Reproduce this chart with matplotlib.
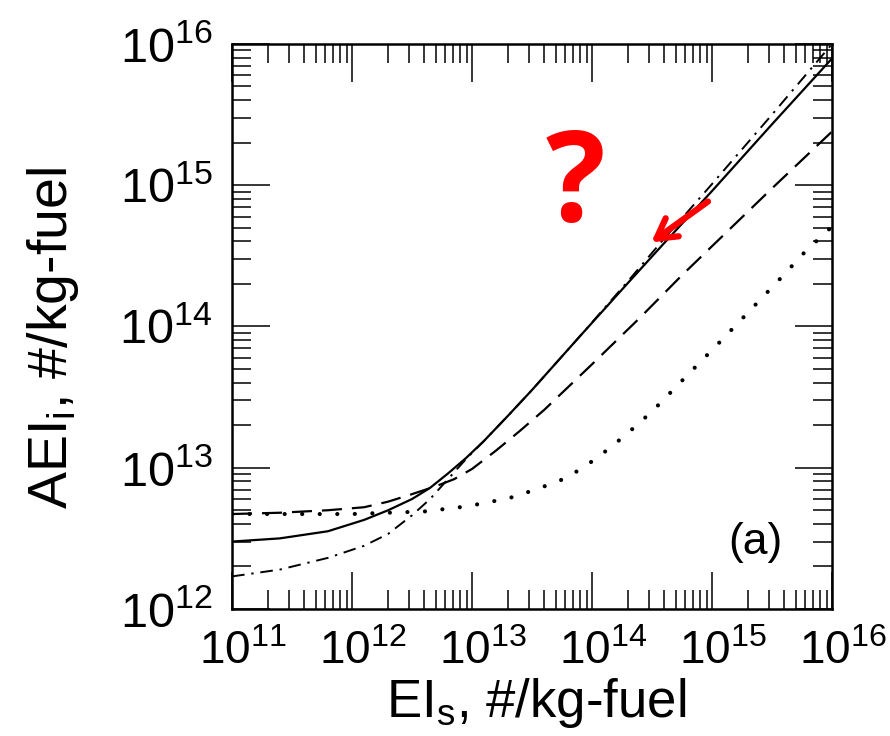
import numpy as np
import matplotlib
matplotlib.use("Agg")
import matplotlib.pyplot as plt
from matplotlib.ticker import LogLocator, LogFormatterMathtext, NullFormatter
from matplotlib.transforms import ScaledTranslation

plt.rcParams['font.family'] = ['Liberation Sans', 'DejaVu Sans']
plt.rcParams['mathtext.fontset'] = 'custom'
plt.rcParams['mathtext.rm'] = 'Liberation Sans'
plt.rcParams['mathtext.it'] = 'Liberation Sans'

# curves, EI_s vs AEI_i (#/kg-fuel)
solid_x = [1.0e11, 2.5e11, 6.3e11, 1.26e12, 2.0e12, 3.16e12, 4.47e12, 6.3e12, 8.9e12,
           1.26e13, 2.0e13, 3.16e13, 7.9e13, 2.0e14, 4.0e14, 1.0e15, 3.16e15, 1.0e16]
solid_y = [3.0e12, 3.16e12, 3.55e12, 4.27e12, 5.0e12, 6.0e12, 7.2e12, 9.1e12, 1.17e13,
           1.55e13, 2.34e13, 3.55e13, 8.5e13, 2.04e14, 3.9e14, 9.1e14, 2.7e15, 7.9e15]

dashdot_x = [1.0e11, 2.5e11, 6.3e11, 1.26e12, 2.0e12, 3.16e12, 4.47e12, 6.3e12, 8.9e12,
             1.26e13, 2.0e13, 3.16e13, 7.9e13, 2.0e14, 4.0e14, 1.0e15, 3.16e15, 1.0e16]
dashdot_y = [1.7e12, 1.9e12, 2.3e12, 2.8e12, 3.4e12, 4.6e12, 6.0e12, 8.3e12, 1.15e13,
             1.55e13, 2.34e13, 3.55e13, 8.5e13, 2.1e14, 4.2e14, 1.02e15, 3.16e15, 1.0e16]

dashed_x = [1.0e11, 2.5e11, 6.3e11, 1.26e12, 2.0e12, 3.16e12, 5.0e12, 7.1e12, 1.0e13,
            1.58e13, 2.5e13, 4.0e13, 1.0e14, 2.5e14, 5.6e14, 1.0e15, 3.16e15, 1.0e16]
dashed_y = [4.7e12, 4.8e12, 5.0e12, 5.25e12, 5.75e12, 6.5e12, 7.4e12, 8.3e12, 9.8e12,
            1.32e13, 1.82e13, 2.57e13, 5.4e13, 1.15e14, 2.3e14, 3.7e14, 9.5e14, 2.4e15]

dotted_x = [1.0e11, 3.16e11, 1.0e12, 2.0e12, 4.0e12, 7.9e12, 1.26e13, 2.2e13, 3.55e13,
            6.2e13, 1.1e14, 1.9e14, 3.16e14, 6.2e14, 1.1e15, 1.95e15, 3.55e15, 6.0e15, 1.0e16]
dotted_y = [4.7e12, 4.7e12, 4.7e12, 4.8e12, 4.9e12, 5.25e12, 5.6e12, 6.2e12, 7.1e12,
            8.5e12, 1.17e13, 1.7e13, 2.5e13, 4.5e13, 7.4e13, 1.23e14, 2.1e14, 3.4e14, 5.1e14]

fig = plt.figure(figsize=(8.9, 7.36), dpi=100)
ax = fig.add_axes([0.2607, 0.1726, 0.6742, 0.7677])

ax.plot(solid_x, solid_y, color='black', lw=1.6)
ax.plot(dashdot_x, dashdot_y, color='black', lw=1.4, dashes=(6.5, 3.5, 1.2, 3.5))
ax.plot(dashed_x, dashed_y, color='black', lw=1.6, dashes=(9, 4.5))
ax.plot(dotted_x, dotted_y, color='black', lw=3.0, dashes=(0.01, 4.2),
        dash_capstyle='round')

ax.set_xscale('log')
ax.set_yscale('log')
ax.set_xlim(1e11, 1e16)
ax.set_ylim(1e12, 1e16)

for axis in (ax.xaxis, ax.yaxis):
    axis.set_major_locator(LogLocator(base=10, numticks=20))
    axis.set_minor_locator(LogLocator(base=10, subs=np.arange(2, 10), numticks=20))
    axis.set_major_formatter(LogFormatterMathtext())
    axis.set_minor_formatter(NullFormatter())

ax.tick_params(which='both', direction='in', top=True, right=True, width=1.1)
ax.tick_params(which='major', length=27)
ax.tick_params(which='minor', length=14)
ax.tick_params(axis='x', which='major', labelsize=33, pad=15)
ax.tick_params(axis='y', which='major', labelsize=35, pad=14)
for s in ax.spines.values():
    s.set_linewidth(1.8)

shift = ScaledTranslation(0.11, 0, fig.dpi_scale_trans)
for lab in ax.get_xticklabels():
    lab.set_transform(lab.get_transform() + shift)

ax.set_xlabel(r'EI$_\mathregular{s}$, #/kg-fuel', fontsize=38)
ax.xaxis.set_label_coords(0.507, -0.118)
ax.set_ylabel(r'AEI$_\mathregular{i}$, #/kg-fuel', fontsize=40)
ax.yaxis.set_label_coords(-0.252, 0.48)

ax.text(0.872, 0.117, '(a)', transform=ax.transAxes, fontsize=32,
        ha='center', va='center')

ax.text(0.572, 0.745, '?', transform=ax.transAxes, fontsize=90,
        fontfamily='Open Sans', fontweight='bold', color='#ff0000',
        ha='center', va='center')
ax.annotate('', xy=(0.695, 0.646), xytext=(0.797, 0.724),
            xycoords='axes fraction', textcoords='axes fraction',
            arrowprops=dict(arrowstyle='->,head_length=1.4,head_width=0.8',
                            color='#ff0000', lw=4.5))

fig.savefig('out.png', dpi=100)
